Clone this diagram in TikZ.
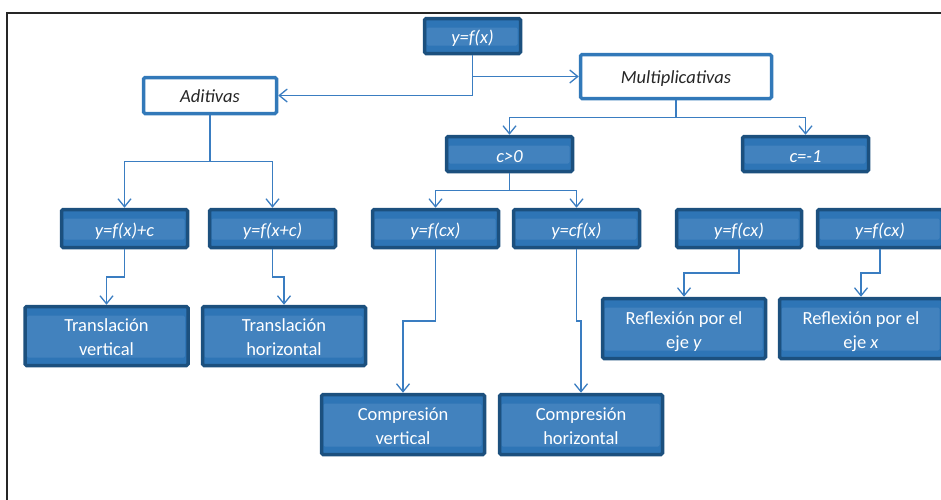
\documentclass[tikz,border=0pt]{standalone}
\usepackage{fontspec}
\setmainfont{Carlito}
\usetikzlibrary{arrows.meta,calc}
\definecolor{navy}{HTML}{1C507E}
\definecolor{midblue}{HTML}{2E75B6}
\definecolor{lightband}{HTML}{4282BE}
\definecolor{connblue}{HTML}{3A7DC1}
\definecolor{wborder}{HTML}{3279B9}
\definecolor{dtext}{HTML}{262626}
\newcommand{\lowtxt}[2][-3pt]{\raisebox{#1}[\height][\depth]{\begin{tabular}{@{}c@{}}#2\end{tabular}}}
\tikzset{
  darkbox/.style={draw=navy, line width=3.5pt, fill=midblue, rounded corners=1.5pt,
    text=white, align=center, inner sep=0pt,
    font=\fontsize{18.5}{24}\selectfont,
    path picture={\fill[lightband]
      ([xshift=2pt,yshift=-9pt]path picture bounding box.north west) rectangle
      ([xshift=-3pt,yshift=8pt]path picture bounding box.south east);}},
  whitebox/.style={draw=wborder, line width=3.5pt, fill=white, rounded corners=1.5pt,
    text=dtext, inner sep=0pt, font=\fontsize{18.5}{24}\selectfont\itshape},
  conn/.style={draw=connblue, line width=1.3pt},
  arr/.style={conn, -{Straight Barb[length=8pt,width=13pt,line width=1.3pt]}},
  frameline/.style={draw=black!85, line width=1.4pt}
}
\begin{document}
\begin{tikzpicture}[x=1pt,y=-1pt]
\useasboundingbox (0,0) rectangle (941,499);
\draw[frameline] (7,520) -- (7,13) -- (960,13);
% level 0
\node[darkbox, minimum width=96pt, minimum height=35pt] (top) at (472.5,36) {\lowtxt{\itshape y=f(x)}};
% level 1
\node[whitebox, minimum width=133pt, minimum height=36pt] (adit) at (210,95.5) {\lowtxt[-2pt]{\itshape Aditivas}};
\node[whitebox, minimum width=191pt, minimum height=44pt] (mult) at (676,76.5) {\lowtxt[-2pt]{\itshape Multiplicativas}};
% level 2
\node[darkbox, minimum width=126pt, minimum height=35pt] (cpos) at (509.5,154) {\lowtxt[-3.5pt]{\itshape c>0}};
\node[darkbox, minimum width=126pt, minimum height=35pt] (cneg) at (805.5,154) {\lowtxt[-3.5pt]{\itshape c=-1}};
% level 3
\node[darkbox, minimum width=126pt, minimum height=38pt] (f1) at (124.5,228.5) {\lowtxt{\itshape y=f(x)+c}};
\node[darkbox, minimum width=126pt, minimum height=38pt] (f2) at (272.5,228.5) {\lowtxt{\itshape y=f(x+c)}};
\node[darkbox, minimum width=126pt, minimum height=38pt] (f3) at (435.5,228.5) {\lowtxt{\itshape y=f(cx)}};
\node[darkbox, minimum width=126pt, minimum height=38pt] (f4) at (576.5,228.5) {\lowtxt{\itshape y=cf(x)}};
\node[darkbox, minimum width=125pt, minimum height=38pt] (f5) at (739,228.5) {\lowtxt{\itshape y=f(cx)}};
\node[darkbox, minimum width=125pt, minimum height=38pt] (f6) at (880,228.5) {\lowtxt{\itshape y=f(cx)}};
% level 4
\node[darkbox, minimum width=163pt, minimum height=59pt] (tv) at (106.5,336) {\lowtxt{Translación\\vertical}};
\node[darkbox, minimum width=163pt, minimum height=59pt] (th) at (284,336) {\lowtxt{Translación\\horizontal}};
\node[darkbox, minimum width=163pt, minimum height=60pt] (ry) at (684,328.5) {\lowtxt{Reflexión por el\\eje \textit{y}}};
\node[darkbox, minimum width=163pt, minimum height=60pt] (rx) at (861,328.5) {\lowtxt{Reflexión por el\\eje \textit{x}}};
\node[darkbox, minimum width=163pt, minimum height=60pt] (cv) at (403,424.5) {\lowtxt{Compresión\\vertical}};
\node[darkbox, minimum width=163pt, minimum height=60pt] (ch) at (581,424.5) {\lowtxt{Compresión\\horizontal}};
% connectors
\draw[arr] (top.south) |- (adit.east);
\draw[arr] (top.south |- mult.west) -- (mult.west);
\foreach \a/\b in {adit/f1, adit/f2, mult/cpos, mult/cneg, cpos/f3, cpos/f4,
                   f1/tv, f2/th, f3/cv, f4/ch, f5/ry, f6/rx}{
  \draw[arr] (\a.south) |- ($(\a.south)!0.5!(\b.north)$) -| (\b.north);
}
\end{tikzpicture}
\end{document}
